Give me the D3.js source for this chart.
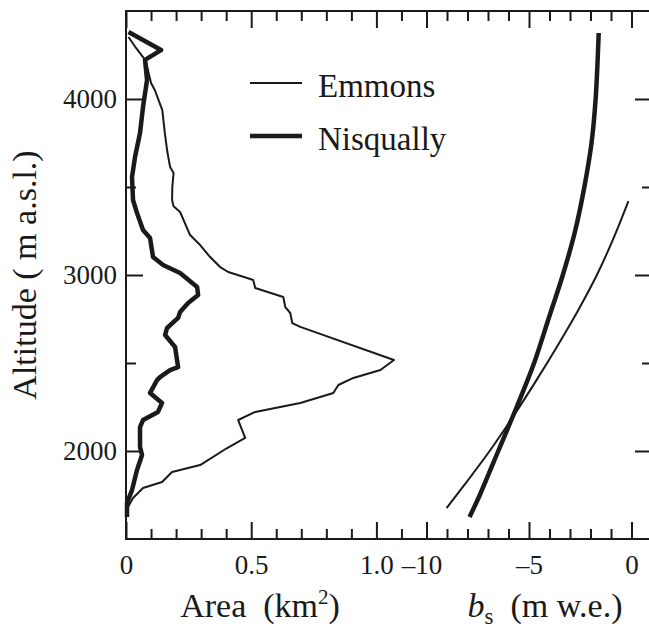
<!DOCTYPE html>
<html>
<head>
<meta charset="utf-8">
<script src="https://cdn.jsdelivr.net/npm/d3@7"></script>
<style>
  body { margin: 0; background: #fff; }
  text { font-family: "Liberation Serif", "Times New Roman", serif; fill: #1a1a1a; }
  .tick line { stroke: #1a1a1a; stroke-width: 2; }
  .line { fill: none; stroke: #1a1a1a; stroke-linejoin: round; stroke-linecap: butt; }
</style>
</head>
<body>
<div id="chart"></div>
<script>
// hypsometry (area per altitude band)
var emmonsAlt = [4352, 4290, 4215, 4150, 4091, 4051, 3937, 3807, 3700, 3614, 3580, 3500, 3426, 3390, 3358, 3227, 3170, 3102, 3045, 3017, 2983, 2972, 2926, 2875, 2818, 2784, 2727, 2705, 2517, 2460, 2415, 2375, 2330, 2273, 2250, 2222, 2176, 2074, 2017, 1920, 1881, 1824, 1790, 1733, 1682, 1648];
var emmonsArea = [0.01, 0.04, 0.08, 0.09, 0.10, 0.115, 0.145, 0.155, 0.165, 0.176, 0.19, 0.185, 0.184, 0.19, 0.216, 0.256, 0.296, 0.336, 0.376, 0.408, 0.484, 0.508, 0.516, 0.628, 0.636, 0.656, 0.664, 0.696, 1.07, 1.016, 0.908, 0.848, 0.828, 0.696, 0.616, 0.516, 0.448, 0.476, 0.404, 0.296, 0.184, 0.144, 0.068, 0.028, 0.008, 0.004];

var nisquallyAlt = [4381, 4278, 4222, 4108, 3955, 3807, 3670, 3557, 3426, 3352, 3256, 3210, 3102, 3057, 3011, 2932, 2886, 2841, 2790, 2756, 2699, 2659, 2591, 2477, 2460, 2420, 2403, 2330, 2273, 2222, 2176, 2136, 2023, 1977, 1892, 1778, 1705, 1625];
var nisquallyArea = [0.01, 0.14, 0.076, 0.084, 0.068, 0.056, 0.036, 0.024, 0.028, 0.044, 0.068, 0.096, 0.108, 0.148, 0.216, 0.284, 0.288, 0.248, 0.216, 0.208, 0.164, 0.156, 0.196, 0.208, 0.176, 0.136, 0.124, 0.096, 0.144, 0.128, 0.068, 0.056, 0.056, 0.064, 0.044, 0.024, 0.004, 0.004];

// surface mass balance profiles
var emmonsBsAlt = [3420, 3200, 3000, 2800, 2600, 2400, 2200, 2000, 1800, 1676];
var emmonsBs = [-0.15, -0.91, -1.69, -2.6, -3.6, -4.65, -5.75, -6.92, -8.2, -9.02];
var nisquallyBsAlt = [4375, 4000, 3750, 3500, 3250, 3000, 2750, 2500, 2250, 2000, 1750, 1625];
var nisquallyBs = [-1.6, -1.75, -1.95, -2.3, -2.75, -3.35, -4.05, -4.75, -5.6, -6.5, -7.4, -7.9];

var altMajor = [2000, 3000, 4000];
var altMinor = [2500, 3500];
var areaMajor = [0, 0.5, 1.0];
var areaMajorLabels = ["0", "0.5", "1.0"];
var areaMinor = [0.1, 0.2, 0.3, 0.4, 0.6, 0.7, 0.8, 0.9, 1.1];
var bsMajor = [-10, -5, 0];
var bsMajorLabels = ["\u201310", "\u20135", "0"];
var bsMinor = [-9, -8, -7, -6, -4, -3, -2, -1];

var seriesNames = ["Emmons", "Nisqually"];

function init() {
  var w = 649, h = 628;
  var left = 126, right = 652, top = 11, bottom = 539, split = 426.5;

  var svg = d3.select("#chart").append("svg")
    .attr("width", w)
    .attr("height", h);

  var yScale = d3.scaleLinear().domain([1500, 4500]).range([bottom, top]);
  var xArea = d3.scaleLinear().domain([0, 1.2]).range([left, split]);
  var xBs = d3.scaleLinear().domain([-10, 1]).range([split, right]);

  var noDomain = function(g) { g.select(".domain").remove(); };

  // bottom ticks + labels
  svg.append("g").attr("transform", "translate(0," + bottom + ")")
    .call(d3.axisBottom(xArea).tickValues(areaMinor).tickSize(-10).tickFormat(""))
    .call(noDomain);
  svg.append("g").attr("transform", "translate(0," + bottom + ")")
    .call(d3.axisBottom(xArea).tickValues(areaMajor).tickSize(-17).tickPadding(16)
      .tickFormat(function(d, i) { return areaMajorLabels[i]; }))
    .call(noDomain);
  svg.append("g").attr("transform", "translate(0," + bottom + ")")
    .call(d3.axisBottom(xBs).tickValues(bsMinor).tickSize(-10).tickFormat(""))
    .call(noDomain);
  svg.append("g").attr("transform", "translate(0," + bottom + ")")
    .call(d3.axisBottom(xBs).tickValues(bsMajor).tickSize(-17).tickPadding(16)
      .tickFormat(function(d, i) { return bsMajorLabels[i]; }))
    .call(noDomain);

  // top ticks
  [[xArea, areaMinor, 10], [xArea, areaMajor, 17], [xBs, bsMinor, 10], [xBs, bsMajor, 17]].forEach(function(a) {
    svg.append("g").attr("transform", "translate(0," + top + ")")
      .call(d3.axisTop(a[0]).tickValues(a[1]).tickSize(-a[2]).tickFormat(""))
      .call(noDomain);
  });

  // left / right ticks
  svg.append("g").attr("transform", "translate(" + left + ",0)")
    .call(d3.axisLeft(yScale).tickValues(altMajor).tickSize(-17).tickPadding(9).tickFormat(d3.format("d")))
    .call(noDomain);
  svg.append("g").attr("transform", "translate(" + left + ",0)")
    .call(d3.axisLeft(yScale).tickValues(altMinor).tickSize(-10).tickFormat(""))
    .call(noDomain);
  svg.append("g").attr("transform", "translate(" + right + ",0)")
    .call(d3.axisRight(yScale).tickValues(altMajor).tickSize(-17).tickFormat(""))
    .call(noDomain);
  svg.append("g").attr("transform", "translate(" + right + ",0)")
    .call(d3.axisRight(yScale).tickValues(altMinor).tickSize(-10).tickFormat(""))
    .call(noDomain);

  svg.selectAll(".tick text")
    .style("font-size", "27px");
  svg.selectAll(".tick text").filter(function(d) { return d === -10; })
    .attr("dx", -5);

  // frame
  svg.append("rect")
    .attr("x", left).attr("y", top)
    .attr("width", right - left).attr("height", bottom - top)
    .attr("fill", "none").attr("stroke", "#1a1a1a").attr("stroke-width", 2);

  // lines
  var areaLine = d3.line()
    .x(function(d) { return xArea(d[1]); })
    .y(function(d) { return yScale(d[0]); });
  var bsLine = d3.line()
    .curve(d3.curveCatmullRom)
    .x(function(d) { return xBs(d[1]); })
    .y(function(d) { return yScale(d[0]); });

  svg.append("path").attr("class", "line")
    .attr("d", areaLine(d3.zip(emmonsAlt, emmonsArea)))
    .attr("stroke-width", 2);
  svg.append("path").attr("class", "line")
    .attr("d", areaLine(d3.zip(nisquallyAlt, nisquallyArea)))
    .attr("stroke-width", 4.5);
  svg.append("path").attr("class", "line")
    .attr("d", bsLine(d3.zip(emmonsBsAlt, emmonsBs)))
    .attr("stroke-width", 2);
  svg.append("path").attr("class", "line")
    .attr("d", bsLine(d3.zip(nisquallyBsAlt, nisquallyBs)))
    .attr("stroke-width", 4.5);

  // legend
  var legend = svg.append("g").attr("transform", "translate(250,83)");
  seriesNames.forEach(function(name, i) {
    legend.append("line")
      .attr("x1", 0).attr("x2", 52)
      .attr("y1", i * 53).attr("y2", i * 53)
      .attr("stroke", "#1a1a1a")
      .attr("stroke-width", i === 0 ? 2 : 4.5);
    legend.append("text")
      .attr("x", 68).attr("y", i * 53 + 14)
      .style("font-size", "33px")
      .text(name);
  });

  // axis titles
  svg.append("text")
    .attr("transform", "translate(36,275) rotate(-90)")
    .attr("text-anchor", "middle")
    .style("font-size", "34px")
    .style("white-space", "pre")
    .text("Altitude ( m a.s.l.)");

  var areaTitle = svg.append("text")
    .attr("x", 260).attr("y", 617)
    .attr("text-anchor", "middle")
    .style("font-size", "34px")
    .style("white-space", "pre");
  areaTitle.append("tspan").text("Area  (km");
  areaTitle.append("tspan").attr("dy", -13).style("font-size", "21px").text("2");
  areaTitle.append("tspan").attr("dy", 13).text(")");

  var bsTitle = svg.append("text")
    .attr("x", 545).attr("y", 617)
    .attr("text-anchor", "middle")
    .style("font-size", "34px")
    .style("white-space", "pre");
  bsTitle.append("tspan").style("font-style", "italic").text("b");
  bsTitle.append("tspan").attr("dy", 7).style("font-size", "23px").text("s");
  bsTitle.append("tspan").attr("dy", -7).text("  (m w.e.)");
}

window.onload = init;
</script>
</body>
</html>
